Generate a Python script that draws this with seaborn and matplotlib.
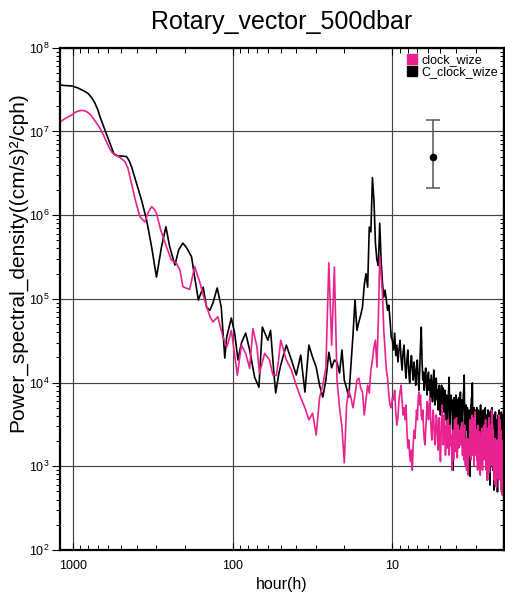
import numpy as np
import pandas as pd
import matplotlib
matplotlib.use("Agg")
import matplotlib.pyplot as plt
from matplotlib.lines import Line2D
from matplotlib.ticker import (FixedLocator, FixedFormatter, LogLocator, NullFormatter,
                               LogFormatterSciNotation)
import seaborn as sns

# ---------------------------------------------------------------
# Rotary spectra at 500 dbar (period in hours, PSD in (cm/s)^2/cph)
# ---------------------------------------------------------------

# low-frequency part, counter-clockwise component
ccw_hours_low = [1205, 1122, 1014, 930, 854, 806, 761, 729, 698, 678,
                 631, 587, 554, 523, 494, 462, 447, 430, 400, 372,
                 346, 322, 300, 279, 262, 248, 230, 218, 205, 194,
                 181, 173, 164, 153, 146, 139, 133, 125, 118, 112,
                 109, 102, 97.2, 92.7, 88.2, 82.9, 78.3, 72.9, 68.5, 65.2,
                 62.2, 60.2, 57.9, 55.4, 53.8, 51.6]
ccw_psd_low = [3.58e7, 3.53e7, 3.49e7, 3.30e7, 3.04e7, 2.85e7, 2.51e7, 2.18e7, 1.80e7, 1.50e7,
               1.04e7, 7.2e6, 5.37e6, 5.08e6, 5.08e6, 5.0e6, 4.55e6, 3.79e6, 2.40e6, 1.51e6,
               8.74e5, 4.19e5, 1.82e5, 4.19e5, 7.27e5, 4.19e5, 2.53e5, 3.83e5, 4.64e5, 4.05e5,
               3.18e5, 1.82e5, 9.7e4, 1.38e5, 8.0e4, 7.3e4, 8.9e4, 1.35e5, 8.0e4, 1.96e4,
               3.5e4, 5.9e4, 3.9e4, 1.86e4, 2.96e4, 3.9e4, 2.45e4, 1.16e4, 8.8e3, 4.6e4,
               3.7e4, 3.2e4, 4.2e4, 1.41e4, 7.5e3, 1.23e4]

# low-frequency part, clockwise component
cw_hours_low = [1205, 1106, 1019, 958, 904, 854, 821, 783, 746, 708,
                678, 649, 616, 596, 573, 546, 508, 473, 453, 440,
                410, 381, 355, 337, 322, 310, 300, 282, 260, 242,
                225, 214, 205, 195, 186, 173, 161, 150, 139, 133,
                124, 121, 115, 109, 107, 102, 98.1, 93.5, 88.2, 82.9,
                78.3, 74.7, 70.5, 68.0, 63.1, 58.8, 56.0, 53.3, 51.6]
cw_psd_low = [1.30e7, 1.445e7, 1.57e7, 1.71e7, 1.77e7, 1.78e7, 1.72e7, 1.61e7, 1.43e7, 1.24e7,
              1.09e7, 9.3e6, 7.5e6, 6.5e6, 5.7e6, 5.2e6, 4.9e6, 4.35e6, 3.65e6, 2.88e6,
              1.59e6, 9.6e5, 8.3e5, 1.09e6, 1.26e6, 1.18e6, 1.05e6, 6.6e5, 4.19e5, 2.91e5,
              2.65e5, 2.21e5, 1.40e5, 1.34e5, 1.30e5, 2.42e5, 1.60e5, 9.7e4, 6.2e4, 5.3e4,
              6.1e4, 5.1e4, 3.5e4, 2.68e4, 2.94e4, 4.2e4, 2.45e4, 1.22e4, 2.8e4, 2.23e4,
              1.48e4, 4.4e4, 2.68e4, 1.29e4, 2.23e4, 1.86e4, 1.23e4, 1.22e4, 1.86e4]

# high-frequency part on the raw frequency grid: k / 600 cph, k = 12 ... 300
freq_step_cph = 1.0 / 600.0
hf_index = np.arange(12, 301)

ccw_psd_high = [
    # k = 12 .. 59
    1.62e4, 2.8e4, 1.86e4, 1.23e4, 2.13e4, 7.7e3, 2.8e4, 2.0e4, 1.53e4, 9.3e3,
    6.7e3, 1.07e4, 2.3e4, 1.5e4, 1.86e4, 1.75e4, 1.3e4, 2.45e4, 1.07e4, 8.6e3,
    6.7e3, 1.6e4, 3.7e4, 9.7e4, 4.2e4, 5.3e4, 6.4e4, 8.0e4, 1.46e5, 2.0e5,
    1.38e5, 7.2e5, 6.3e5, 2.8e6, 1.5e6, 4.6e5, 2.9e5, 2.5e5, 8.0e5, 2.9e5,
    1.55e5, 1.05e5, 1.27e5, 9.7e4, 7.3e4, 8.4e4, 5.6e4, 3.5e4,
    # k = 60 .. 100
    3.2e4, 2.45e4, 3.9e4, 2.1e4, 2.8e4, 1.76e4, 2.45e4, 3.2e4, 1.96e4, 1.41e4,
    2.3e4, 2.8e4, 1.62e4, 1.13e4, 1.86e4, 2.45e4, 1.33e4, 1.0e4, 1.62e4, 2.1e4,
    1.41e4, 1.07e4, 1.76e4, 1.33e4, 9.3e3, 1.49e4, 1.86e4, 1.13e4, 8.1e3, 1.41e4,
    2.8e4, 4.6e4, 1.86e4, 1.07e4, 1.33e4, 8.1e3, 1.23e4, 1.49e4, 9.3e3, 7.1e3,
    1.13e4,
    # k = 101 .. 120
    1.33e4, 8.1e3, 1.07e4, 6.6e3, 1.23e4, 8.6e3, 5.9e3, 9.9e3, 1.41e4, 7.1e3,
    5.4e3, 9.3e3, 1.13e4, 6.2e3, 8.1e3, 4.7e3, 7.1e3, 9.3e3, 5.4e3, 4.1e3,
    # k = 121 .. 140
    7.1e3, 9.3e3, 5.0e3, 6.6e3, 8.6e3, 4.45e3, 6.2e3, 8.1e3, 3.6e3, 5.4e3,
    7.1e3, 4.1e3, 2.7e3, 6.2e3, 8.1e3, 1.16e4, 4.7e3, 1.9e3, 5.4e3, 7.1e3,
    # k = 141 .. 160
    4.7e3, 6.2e3, 3.6e3, 9.0e2, 5.4e3, 6.6e3, 4.1e3, 3.1e3, 5.9e3, 7.1e3,
    3.8e3, 4.7e3, 6.2e3, 2.85e3, 4.45e3, 6.6e3, 3.6e3, 2.36e3, 5.4e3, 7.7e3,
    # k = 161 .. 180
    4.7e3, 3.1e3, 6.2e3, 4.1e3, 2.6e3, 5.4e3, 7.1e3, 8.6e3, 1.23e4, 4.7e3,
    3.35e3, 2.06e3, 4.45e3, 5.4e3, 2.7e3, 3.8e3, 5.0e3, 3.1e3, 1.8e3, 4.1e3,
    # k = 181 .. 200
    3.6e3, 4.7e3, 2.06e3, 7.6e2, 3.1e3, 5.4e3, 4.1e3, 6.6e3, 2.7e3, 9.9e3,
    4.45e3, 3.1e3, 1.8e3, 3.8e3, 5.0e3, 2.85e3, 1.56e3, 3.6e3, 4.7e3, 2.36e3,
    # k = 201 .. 225
    4.1e3, 2.7e3, 5.0e3, 3.1e3, 1.36e3, 3.6e3, 4.7e3, 2.06e3, 3.0e3, 4.45e3,
    1.03e3, 2.7e3, 4.1e3, 5.4e3, 2.36e3, 1.56e3, 3.6e3, 4.45e3, 2.85e3, 1.19e3,
    3.8e3, 4.7e3, 2.6e3, 1.8e3, 3.6e3,
    # k = 226 .. 250
    4.45e3, 2.06e3, 3.1e3, 5.0e3, 1.19e3, 2.7e3, 3.8e3, 1.56e3, 4.1e3, 2.36e3,
    6.84e2, 2.85e3, 4.7e3, 1.8e3, 3.6e3, 1.03e3, 3.1e3, 4.45e3, 2.06e3, 5.96e2,
    2.7e3, 3.8e3, 1.36e3, 3.1e3, 4.7e3,
    # k = 251 .. 275
    2.7e3, 5.0e3, 1.8e3, 3.6e3, 9.0e2, 2.36e3, 4.1e3, 1.56e3, 2.85e3, 5.19e2,
    2.06e3, 3.8e3, 1.19e3, 2.6e3, 4.45e3, 1.65e3, 3.1e3, 7.85e2, 2.15e3, 3.6e3,
    1.36e3, 2.7e3, 4.95e2, 1.8e3, 3.1e3,
    # k = 276 .. 300
    4.1e3, 2.06e3, 1.19e3, 3.1e3, 4.7e3, 1.56e3, 2.36e3, 3.6e3, 9.0e2, 2.06e3,
    3.8e3, 1.36e3, 2.7e3, 4.45e3, 1.8e3, 6.84e2, 2.85e3, 3.35e3, 1.19e3, 2.15e3,
    4.1e3, 1.56e3, 2.7e3, 9.0e2, 2.06e3,
]

cw_psd_high = [
    # k = 12 .. 60
    3.2e4, 1.86e4, 1.41e4, 9.3e3, 6.6e3, 5.0e3, 3.6e3, 4.3e3, 2.36e3, 6.6e3,
    9.3e3, 1.49e4, 2.7e5, 2.8e4, 2.4e5, 1.07e4, 5.1e3, 2.9e3, 1.1e3, 5.4e3,
    8.1e3, 6.6e3, 5.0e3, 7.1e3, 1.07e4, 1.13e4, 8.6e3, 7.7e3, 4.1e3, 6.2e3,
    9.3e3, 7.5e3, 1.41e4, 1.86e4, 2.65e4, 3.2e4, 1.53e4, 5.6e4, 3.2e5, 1.93e5,
    1.17e5, 4.2e4, 2.45e4, 1.41e4, 1.13e4, 7.1e3, 5.4e3, 5.0e3, 6.6e3,
    # k = 61 .. 100
    6.2e3, 8.1e3, 4.45e3, 3.1e3, 3.8e3, 6.2e3, 7.7e3, 9.3e3, 6.2e3, 4.1e3,
    5.0e3, 3.6e3, 5.4e3, 2.7e3, 1.65e3, 2.06e3, 1.36e3, 1.14e3, 1.56e3, 9.0e2,
    1.8e3, 2.7e3, 2.15e3, 3.1e3, 4.7e3, 3.6e3, 6.2e3, 7.7e3, 5.4e3, 7.1e3,
    4.1e3, 3.6e3, 4.7e3, 2.85e3, 2.06e3, 1.8e3, 2.7e3, 4.1e3, 5.9e3, 4.7e3,
    # k = 101 .. 120
    3.6e3, 5.4e3, 6.6e3, 4.1e3, 2.6e3, 2.06e3, 3.1e3, 4.7e3, 3.8e3, 2.15e3,
    1.8e3, 2.7e3, 4.1e3, 3.6e3, 2.06e3, 1.56e3, 2.85e3, 3.8e3, 1.8e3, 1.14e3,
    # k = 121 .. 140
    2.06e3, 3.6e3, 5.4e3, 3.1e3, 1.8e3, 2.36e3, 4.1e3, 2.7e3, 1.36e3, 2.06e3,
    3.1e3, 1.65e3, 2.6e3, 3.6e3, 2.15e3, 1.36e3, 2.7e3, 3.1e3, 1.8e3, 2.36e3,
    # k = 141 .. 160
    1.56e3, 9.0e2, 1.8e3, 2.7e3, 1.19e3, 2.06e3, 3.6e3, 2.36e3, 1.5e3, 2.85e3,
    3.8e3, 2.06e3, 1.26e3, 2.3e3, 3.1e3, 1.65e3, 2.15e3, 2.7e3, 1.8e3, 2.06e3,
    # k = 161 .. 180
    2.7e3, 1.8e3, 3.35e3, 2.15e3, 1.36e3, 2.85e3, 2.06e3, 1.19e3, 2.36e3, 3.1e3,
    1.56e3, 1.03e3, 2.06e3, 1.36e3, 9.0e2, 1.65e3, 2.15e3, 1.19e3, 7.85e2, 1.56e3,
    # k = 181 .. 200
    2.06e3, 1.36e3, 2.7e3, 3.6e3, 1.8e3, 1.19e3, 2.36e3, 3.1e3, 4.1e3, 2.06e3,
    1.36e3, 2.7e3, 3.8e3, 1.8e3, 1.03e3, 2.06e3, 3.1e3, 4.45e3, 2.15e3, 1.36e3,
    # k = 201 .. 225
    1.8e3, 2.7e3, 1.19e3, 1.56e3, 9.0e2, 2.06e3, 3.1e3, 1.36e3, 9.5e2, 1.8e3,
    2.6e3, 1.19e3, 7.85e2, 1.56e3, 2.15e3, 1.03e3, 1.8e3, 2.85e3, 1.5e3, 9.0e2,
    2.06e3, 2.7e3, 1.26e3, 1.8e3, 2.36e3,
    # k = 226 .. 250
    3.1e3, 1.8e3, 1.19e3, 2.36e3, 3.6e3, 1.56e3, 9.0e2, 2.06e3, 2.85e3, 1.36e3,
    6.84e2, 1.8e3, 2.6e3, 1.14e3, 2.06e3, 3.8e3, 1.56e3, 8.5e2, 2.15e3, 3.1e3,
    1.36e3, 1.95e3, 2.7e3, 1.03e3, 1.8e3,
    # k = 251 .. 275
    4.7e3, 2.7e3, 1.56e3, 3.1e3, 1.03e3, 1.8e3, 2.7e3, 9.0e2, 1.36e3, 2.06e3,
    6.84e2, 1.19e3, 2.15e3, 1.56e3, 5.96e2, 1.03e3, 1.65e3, 9.0e2, 5.6e2, 1.36e3,
    2.06e3, 7.85e2, 1.19e3, 1.8e3, 7.2e2,
    # k = 276 .. 300
    1.19e3, 2.06e3, 4.1e3, 1.56e3, 9.0e2, 2.36e3, 3.6e3, 1.36e3, 6.84e2, 1.8e3,
    2.7e3, 1.03e3, 5.19e2, 1.36e3, 2.06e3, 7.85e2, 1.19e3, 4.53e2, 9.0e2, 1.56e3,
    6.84e2, 1.03e3, 1.8e3, 5.96e2, 9.0e2,
]

# 95% confidence interval marker
ci_hour = 5.6
ci_psd = 4.9e6
ci_low = 2.1e6
ci_high = 1.36e7

series_names = ["clock_wize", "C_clock_wize"]
series_colors = {"clock_wize": "#e8228f", "C_clock_wize": "#000000"}
x_tick_values = [1000, 100, 10]
x_tick_labels = ["1000", "100", "10"]
y_tick_values = [1e2, 1e3, 1e4, 1e5, 1e6, 1e7, 1e8]

# ---------------------------------------------------------------
hf_hours = 1.0 / (hf_index * freq_step_cph)

assert len(ccw_hours_low) == len(ccw_psd_low)
assert len(cw_hours_low) == len(cw_psd_low)
assert len(ccw_psd_high) == len(hf_index)
assert len(cw_psd_high) == len(hf_index)

frames = []
for name, h_low, p_low, p_high in [
    ("C_clock_wize", ccw_hours_low, ccw_psd_low, ccw_psd_high),
    ("clock_wize", cw_hours_low, cw_psd_low, cw_psd_high),
]:
    frames.append(pd.DataFrame({
        "hour": np.concatenate([np.asarray(h_low, float), hf_hours]),
        "psd": np.concatenate([np.asarray(p_low, float), np.asarray(p_high, float)]),
        "series": name,
    }))
spectra = pd.concat(frames, ignore_index=True)

sns.set_style("white")
plt.rcParams["font.family"] = ["Liberation Sans", "DejaVu Sans"]
plt.rcParams["text.color"] = "black"
plt.rcParams["axes.edgecolor"] = "black"
plt.rcParams["xtick.color"] = "black"
plt.rcParams["ytick.color"] = "black"
plt.rcParams["axes.labelcolor"] = "black"

W, H = 506, 601
fig = plt.figure(figsize=(W / 100, H / 100), dpi=100)
ax = fig.add_axes([60 / W, (H - 550) / H, 444 / W, 502.3 / H])
ax.set_xscale("log")
ax.set_yscale("log")

sns.lineplot(data=spectra, x="hour", y="psd", hue="series",
             hue_order=["C_clock_wize", "clock_wize"], palette=series_colors,
             estimator=None, sort=False, linewidth=1.2, legend=False, ax=ax)

ax.errorbar([ci_hour], [ci_psd],
            yerr=[[ci_psd - ci_low], [ci_high - ci_psd]],
            fmt="o", ms=4.5, color="black", ecolor="#555555",
            elinewidth=1.1, capsize=5, capthick=1.1, zorder=6)

ax.set_xlim(1206, 2.0)
ax.set_ylim(1e2, 1e8)
ax.set_xlabel("")
ax.set_ylabel("")

# axis ticks
ax.xaxis.set_major_locator(FixedLocator(x_tick_values))
ax.xaxis.set_major_formatter(FixedFormatter(x_tick_labels))
ax.xaxis.set_minor_locator(LogLocator(base=10, subs=np.arange(2, 10), numticks=20))
ax.xaxis.set_minor_formatter(NullFormatter())
ax.yaxis.set_major_locator(FixedLocator(y_tick_values))
ax.yaxis.set_major_formatter(LogFormatterSciNotation())
ax.yaxis.set_minor_locator(LogLocator(base=10, subs=np.arange(2, 10), numticks=20))
ax.yaxis.set_minor_formatter(NullFormatter())

ax.tick_params(axis="x", which="both", direction="in", bottom=True, top=True,
               labelsize=9, pad=7)
ax.tick_params(axis="x", which="major", length=5, width=0.8)
ax.tick_params(axis="x", which="minor", length=3.5, width=0.7)
ax.tick_params(axis="y", which="both", direction="out", left=True, right=False,
               labelsize=9, pad=1.5)
ax.tick_params(axis="y", which="major", length=6, width=0.8)
ax.tick_params(axis="y", which="minor", length=3, width=0.7)

# inward ticks along the right frame edge
right = ax.secondary_yaxis("right")
right.yaxis.set_major_locator(FixedLocator(y_tick_values))
right.yaxis.set_minor_locator(LogLocator(base=10, subs=np.arange(2, 10), numticks=20))
right.yaxis.set_major_formatter(NullFormatter())
right.yaxis.set_minor_formatter(NullFormatter())
right.tick_params(which="both", direction="in", labelright=False)
right.tick_params(which="major", length=5, width=0.8)
right.tick_params(which="minor", length=3, width=0.7)
right.spines["right"].set_linewidth(1.6)
right.xaxis.set_visible(False)

ax.grid(True, which="major", color="#444444", linewidth=0.85)
for side in ax.spines.values():
    side.set_linewidth(1.6)
    side.set_color("black")

handles = [Line2D([], [], ls="none", marker="s", ms=7,
                  mfc=series_colors[n], mec=series_colors[n]) for n in series_names]
ax.legend(handles, series_names, loc="upper right", frameon=False, fontsize=9,
          handlelength=0.7, handletextpad=0.35, labelspacing=0.05,
          borderaxespad=0.2, borderpad=0.3)

fig.text(282 / W, 1 - 29 / H, "Rotary_vector_500dbar", ha="center",
         va="baseline", fontsize=18)
fig.text(282 / W, 1 - 589 / H, "hour(h)", ha="center", va="baseline",
         fontsize=11.5)
fig.text(18 / W, 1 - 262 / H, "Power_spectral_density((cm/s)\u00b2/cph)",
         rotation=90, ha="center", va="center", fontsize=15)

fig.savefig("out.png", dpi=100)
